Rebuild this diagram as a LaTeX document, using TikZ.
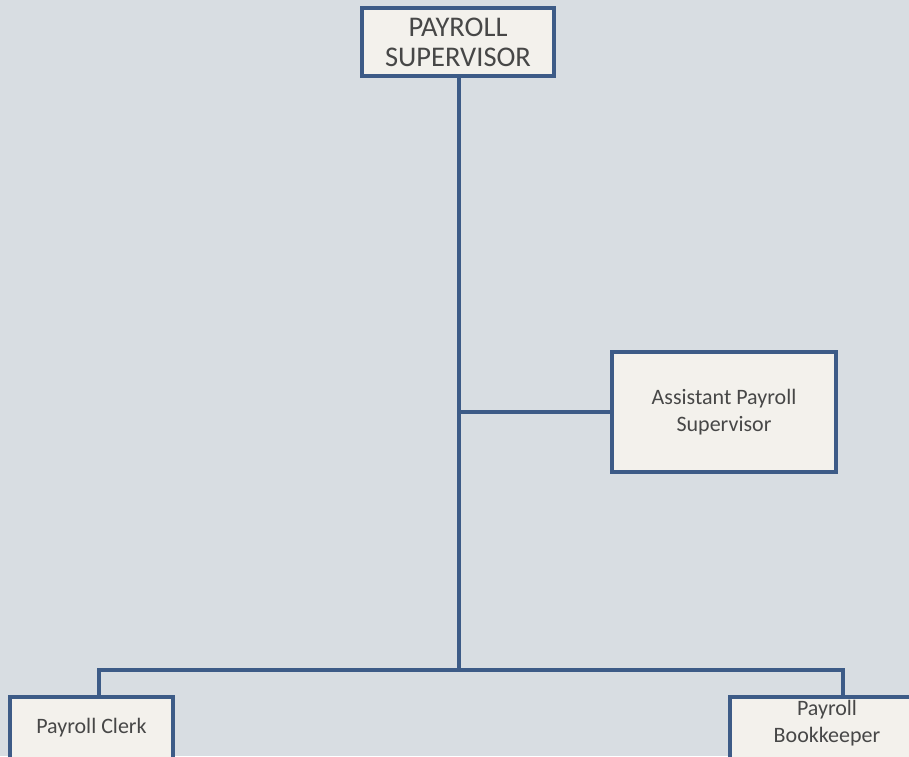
\documentclass[tikz,border=0pt]{standalone}
\usepackage{fontspec}
\setmainfont{Carlito}
\definecolor{paper}{HTML}{D8DDE2}
\definecolor{boxfill}{HTML}{F3F1EC}
\definecolor{frame}{HTML}{3D5B87}
\definecolor{ink}{HTML}{474747}
\begin{document}
\begin{tikzpicture}[x=1pt,y=-1pt,
  orgbox/.style={draw=frame, fill=boxfill, line width=4pt, inner sep=0pt,
    align=center, text=ink},
  conn/.style={draw=frame, line width=3.5pt}]
  % page and background
  \fill[paper] (0,0) rectangle (909,756);
  \useasboundingbox (0,0) rectangle (909,756);

  % boxes
  \node[orgbox, minimum width=192pt, minimum height=68pt,
        font=\fontsize{28.5}{30}\selectfont] (sup) at (458,42)
        {PAYROLL\\SUPERVISOR};
  \node[orgbox, minimum width=224pt, minimum height=120pt,
        font=\fontsize{22}{26.5}\selectfont] (asst) at (724,412)
        {Assistant Payroll\\Supervisor};
  \node[orgbox, minimum width=163pt, minimum height=62pt,
        font=\fontsize{22}{26.5}\selectfont] (clerk) at (91.5,728)
        {Payroll Clerk};
  \node[orgbox, minimum width=194pt, minimum height=62pt, text depth=13pt,
        font=\fontsize{22}{26.5}\selectfont] (book) at (827,728)
        {Payroll\\Bookkeeper};

  % trunk and bus points
  \coordinate (junc) at (459,670);
  \coordinate (busL) at (99,670);
  \coordinate (busR) at (843,670);

  % connectors
  \draw[conn] (junc |- sup.south) -- (junc);
  \draw[conn] (junc |- asst.west) -- (asst.west);
  \draw[conn] (busL |- clerk.north) -- (busL) -- (busR) -- (busR |- book.north);
\end{tikzpicture}
\end{document}
